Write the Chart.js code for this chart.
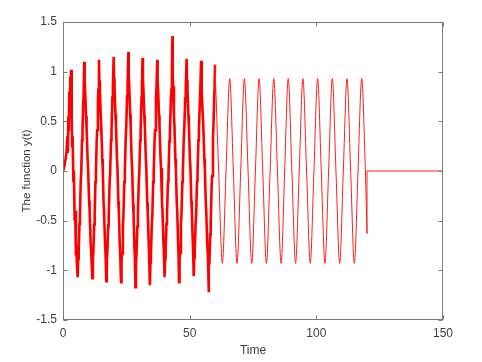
<!DOCTYPE html>
<html>
<head>
<meta charset="utf-8">
<script src="https://cdn.jsdelivr.net/npm/chart.js@4/dist/chart.umd.min.js"></script>
<style>
  html, body { margin: 0; padding: 0; background: #fff; }
  canvas { display: block; }
</style>
</head>
<body>
<canvas id="chart-area" width="482" height="362"></canvas>
<script>
// noisy part of the response, 0..60 s
var noisyTime = [
	0, 0.5, 1.0, 1.4, 1.7, 1.9, 2.1, 2.3, 2.5, 2.7, 2.9, 3.0, 3.2,
	3.35, 3.5, 3.6, 3.8, 4.1, 4.3, 4.6, 4.8, 5.1, 5.3, 5.5, 5.8,
	6.0, 6.2, 6.5, 6.7, 7.0, 7.2, 7.5, 7.7, 8.0, 8.15, 8.4,
	8.55, 8.75, 9.1, 9.3, 9.7, 9.9, 10.3, 10.5, 10.9, 11.1, 11.6,
	11.8, 12.0, 12.3, 12.5, 12.8, 13.0, 13.3, 13.5, 13.8, 13.95, 14.2,
	14.35, 14.55, 14.9, 15.1, 15.5, 15.7, 16.0, 16.2, 16.6, 16.8, 17.1,
	17.3, 17.5, 17.85, 18.05, 18.4, 18.6, 18.95, 19.15, 19.5, 19.7, 20.0,
	20.15, 20.35, 20.7, 20.9, 21.3, 21.5, 21.85, 22.05, 22.4, 22.6, 22.9,
	23.1, 23.3, 23.65, 23.85, 24.2, 24.4, 24.75, 24.95, 25.3, 25.5, 25.8,
	25.95, 26.15, 26.5, 26.7, 27.1, 27.3, 27.65, 27.85, 28.2, 28.35, 28.6,
	28.8, 29.0, 29.35, 29.55, 29.9, 30.1, 30.45, 30.65, 31.0, 31.15, 31.4,
	31.55, 31.75, 32.1, 32.3, 32.7, 32.9, 33.25, 33.45, 33.85, 34.0, 34.3,
	34.5, 34.7, 35.05, 35.25, 35.6, 35.8, 36.15, 36.35, 36.7, 36.9, 37.2,
	37.35, 37.55, 37.9, 38.1, 38.5, 38.7, 39.05, 39.25, 39.65, 39.8, 40.1,
	40.3, 40.5, 40.85, 41.05, 41.45, 41.65, 42.0, 42.2, 42.6, 42.8, 43.0, 43.2, 43.3,
	43.5, 43.8, 44.0, 44.35, 44.55, 44.9, 45.1, 45.45, 45.6, 45.8,
	46.0, 46.2, 46.55, 46.75, 47.1, 47.3, 47.65, 47.85, 48.25, 48.45, 48.8,
	48.95, 49.15, 49.5, 49.7, 50.1, 50.3, 50.65, 50.85, 51.2, 51.35, 51.6,
	51.8, 52.0, 52.35, 52.55, 52.9, 53.1, 53.45, 53.65, 54.05, 54.2, 54.5,
	54.65, 54.85, 55.2, 55.4, 55.8, 56.0, 56.35, 56.55, 56.95, 57.15, 57.35, 57.5, 57.6,
	57.8, 58.1, 58.3, 58.65, 58.85, 59.2, 59.4, 59.75, 59.85, 60.0
];
var noisyValue = [
	0, 0.04, 0.12, 0.2, 0.35, 0.18, 0.55, 0.4, 0.8, 0.62, 0.95, 0.75, 1.02,
	0.5, 0.55, 0.25, 0.35, -0.1, 0.0, -0.5, -0.4, -0.85, -0.75, -0.95, -1.07,
	-0.88, -0.8, -0.53, -0.44, -0.1, -0.02, 0.31, 0.4, 0.71, 0.8, 1.10,
	0.9, 0.8, 0.55, 0.44, 0.13, 0.03, -0.3, -0.39, -0.71, -0.8, -1.08,
	-0.89, -0.81, -0.54, -0.45, -0.11, -0.02, 0.31, 0.41, 0.73, 0.82, 1.12,
	0.91, 0.81, 0.56, 0.45, 0.12, 0.02, -0.31, -0.41, -0.73, -0.83, -1.11,
	-0.9, -0.82, -0.55, -0.45, -0.12, -0.03, 0.31, 0.41, 0.74, 0.84, 1.15,
	0.93, 0.83, 0.57, 0.46, 0.13, 0.03, -0.31, -0.41, -0.74, -0.84, -1.12,
	-0.91, -0.83, -0.55, -0.45, -0.11, -0.02, 0.33, 0.43, 0.76, 0.86, 1.20,
	0.96, 0.85, 0.58, 0.46, 0.12, 0.02, -0.33, -0.43, -0.77, -0.86, -1.17,
	-0.93, -0.84, -0.56, -0.46, -0.12, -0.03, 0.31, 0.41, 0.74, 0.84, 1.14,
	0.92, 0.82, 0.56, 0.45, 0.12, 0.02, -0.32, -0.42, -0.75, -0.85, -1.15,
	-0.92, -0.83, -0.55, -0.45, -0.11, -0.02, 0.31, 0.41, 0.73, 0.83, 1.12,
	0.91, 0.81, 0.56, 0.45, 0.13, 0.03, -0.3, -0.39, -0.71, -0.8, -1.07,
	-0.88, -0.8, -0.53, -0.44, -0.1, -0.02, 0.3, 0.4, 0.72, 0.82, 1.0, 1.36, 0.95,
	0.85, 0.55, 0.45, 0.12, 0.03, -0.31, -0.41, -0.74, -0.84, -1.12,
	-0.9, -0.82, -0.54, -0.45, -0.11, -0.02, 0.31, 0.41, 0.73, 0.83, 1.13,
	0.91, 0.81, 0.56, 0.45, 0.12, 0.03, -0.3, -0.39, -0.7, -0.79, -1.06,
	-0.87, -0.79, -0.53, -0.44, -0.1, -0.02, 0.31, 0.4, 0.72, 0.82, 1.11,
	0.9, 0.8, 0.55, 0.44, 0.12, 0.02, -0.31, -0.41, -0.74, -0.84, -1.0, -1.22, -0.95,
	-0.93, -0.64, -0.53, -0.17, -0.05, 0.33, 0.46, 0.8, 0.86, 1.07
];

// clean oscillation 60..120 s (peaks, zero crossings, troughs)
var cleanTime = [
	60.0, 61.45, 62.9, 64.35, 65.8, 67.25, 68.7, 70.15, 71.6, 73.05,
	74.5, 75.95, 77.4, 78.85, 80.3, 81.75, 83.2, 84.65, 86.1, 87.5,
	88.9, 90.35, 91.8, 93.25, 94.7, 96.15, 97.6, 99.05, 100.5, 101.95,
	103.4, 104.85, 106.3, 107.75, 109.2, 110.65, 112.1, 113.55, 115.0, 116.45,
	117.9, 119.35, 120.0
];
var cleanValue = [
	1.07, 0, -0.93, 0, 0.93, 0, -0.93, 0, 0.93, 0,
	-0.93, 0, 0.93, 0, -0.93, 0, 0.93, 0, -0.93, 0,
	0.93, 0, -0.93, 0, 0.93, 0, -0.93, 0, 0.93, 0,
	-0.93, 0, 0.93, 0, -0.93, 0, 0.93, 0, -0.93, 0,
	0.93, 0, -0.63
];

// switched off after 120 s
var tailTime = [120.0, 120.0, 150.0];
var tailValue = [-0.63, 0, 0];

var xTicks = [0, 50, 100, 150];
var yTicks = [-1.5, -1, -0.5, 0, 0.5, 1, 1.5];

function pts(xs, ys) {
	return xs.map(function (x, i) { return { x: x, y: ys[i] }; });
}

var axisColor = '#7a7a7a';
var textColor = '#404040';
var fontFamily = "'Liberation Sans', Arial, Helvetica, sans-serif";

// MATLAB style box with inward ticks on all four sides
var boxPlugin = {
	id: 'box',
	afterDraw: function (chart) {
		var ctx = chart.ctx, a = chart.chartArea;
		var xs = chart.scales.x, ys = chart.scales.y;
		var l = Math.round(a.left) + 0.5, r = Math.round(a.right) - 0.5;
		var t = Math.round(a.top) + 0.5, b = Math.round(a.bottom) - 0.5;
		ctx.save();
		ctx.strokeStyle = axisColor;
		ctx.lineWidth = 1;
		ctx.strokeRect(l, t, r - l, b - t);
		ctx.beginPath();
		xTicks.forEach(function (v) {
			var px = Math.round(xs.getPixelForValue(v)) + 0.5;
			ctx.moveTo(px, b); ctx.lineTo(px, b - 4);
			ctx.moveTo(px, t); ctx.lineTo(px, t + 4);
		});
		yTicks.forEach(function (v) {
			var py = Math.round(ys.getPixelForValue(v)) + 0.5;
			ctx.moveTo(l, py); ctx.lineTo(l + 4, py);
			ctx.moveTo(r, py); ctx.lineTo(r - 4, py);
		});
		ctx.stroke();
		ctx.restore();
	}
};

var plainLabel = function (v) { return String(v); };

var config = {
	type: 'line',
	data: {
		datasets: [{
			label: 'clean',
			data: pts(cleanTime, cleanValue),
			borderColor: 'rgb(255, 30, 30)',
			borderWidth: 1,
			pointRadius: 0,
			cubicInterpolationMode: 'monotone'
		}, {
			label: 'tail',
			data: pts(tailTime, tailValue),
			borderColor: 'rgb(255, 30, 30)',
			borderWidth: 1,
			pointRadius: 0,
			tension: 0
		}, {
			label: 'noisy',
			data: pts(noisyTime, noisyValue),
			borderColor: '#ff0000',
			borderWidth: 2.6,
			borderJoinStyle: 'miter',
			pointRadius: 0,
			tension: 0
		}]
	},
	options: {
		responsive: false,
		animation: false,
		events: [],
		layout: { padding: { top: 22, right: 39, left: 0, bottom: 0 } },
		plugins: {
			legend: { display: false },
			tooltip: { enabled: false }
		},
		scales: {
			x: {
				type: 'linear',
				min: 0,
				max: 150,
				afterFit: function (s) { s.height = 42; },
				afterBuildTicks: function (s) { s.ticks = xTicks.map(function (v) { return { value: v }; }); },
				grid: { display: false, drawTicks: false },
				border: { display: false },
				ticks: { padding: 6, color: textColor, callback: plainLabel, font: { family: fontFamily, size: 12 } },
				title: {
					display: true,
					text: 'Time',
					color: textColor,
					padding: { top: 0, bottom: 4 },
					font: { family: fontFamily, size: 12 }
				}
			},
			y: {
				min: -1.5,
				max: 1.5,
				afterFit: function (s) { s.width = 63; },
				afterBuildTicks: function (s) { s.ticks = yTicks.map(function (v) { return { value: v }; }); },
				grid: { display: false, drawTicks: false },
				border: { display: false },
				ticks: { padding: 6, color: textColor, callback: plainLabel, font: { family: fontFamily, size: 12 } },
				title: {
					display: true,
					text: 'The function y(t)',
					color: textColor,
					padding: { top: 20, bottom: 0 },
					font: { family: fontFamily, size: 11.5 }
				}
			}
		}
	},
	plugins: [boxPlugin]
};

window.onload = function () {
	var ctx = document.getElementById('chart-area').getContext('2d');
	window.myLine = new Chart(ctx, config);
};
</script>
</body>
</html>
